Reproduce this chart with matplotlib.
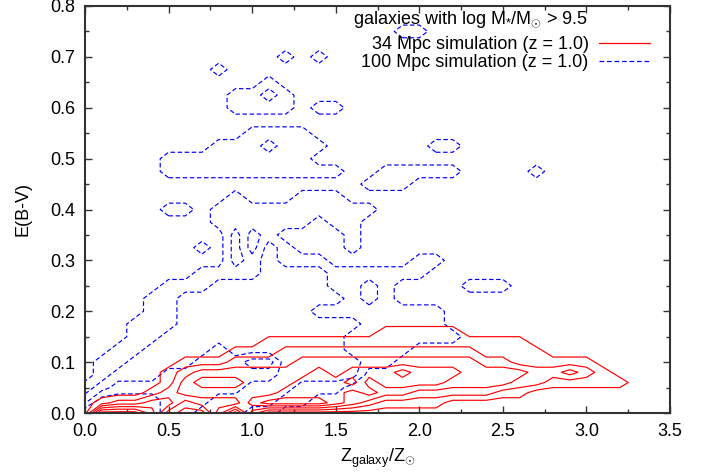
import numpy as np
import matplotlib
matplotlib.use('Agg')
import matplotlib.pyplot as plt
from matplotlib.lines import Line2D

plt.rcParams['font.family'] = ['Liberation Sans', 'DejaVu Sans']
plt.rcParams['mathtext.fontset'] = 'custom'
plt.rcParams['mathtext.rm'] = 'Liberation Sans'
plt.rcParams['mathtext.it'] = 'Liberation Sans:italic'

# ==========================================
# 1. DATA (2D histograms)
# ==========================================
# metallicity bins Z_galaxy/Z_sun (columns)
z_bins = np.arange(36) * 0.1

# 34 Mpc run: E(B-V) bins 0.00 .. 0.18 (rows, top row first)
ebv_bins_34 = np.arange(10) * 0.02
counts_34 = [
    "000000000000000000000000000000000000",  # 0.18
    "000000000000000000111110000000000000",  # 0.16
    "000000000001111111111111111000000000",  # 0.14
    "000000000111222222222222111100000000",  # 0.12
    "000000111222233333333333221111100000",  # 0.10
    "000001233333334344454443333223210000",  # 0.08
    "000001344433344453444433332211111000",  # 0.06
    "000012333333444434332222211000000000",  # 0.04
    "012233122245555432111100000000000000",  # 0.02
    "066641003620000000000000000000000000",  # 0.00
]
levels_34 = [0.5, 1.5, 2.5, 3.5, 4.5, 5.5]

# 100 Mpc run: E(B-V) bins 0.000 .. 0.800 (rows, top row first)
ebv_bins_100 = np.arange(33) * 0.025
counts_100 = [
    "000000000000000000000000000000000000",  # 0.800
    "000000000000000000000000000000000000",  # 0.775
    "000000000000000000022000000000000000",  # 0.750
    "000000000000000000000000000000000000",  # 0.725
    "000000000000202000000000000000000000",  # 0.700
    "000000002000000000000000000000000000",  # 0.675
    "000000000002000000000000000000000000",  # 0.650
    "000000000224200000000000000000000000",  # 0.625
    "000000000222202200000000000000000000",  # 0.600
    "000000000000000000000000000000000000",  # 0.575
    "000000000022220000000000000000000000",  # 0.550
    "000000002224222000000220000000000000",  # 0.525
    "000002222222220000000000000000000000",  # 0.500
    "000002222222222200222220000200000000",  # 0.475
    "000000000000000002220000000000000000",  # 0.450
    "000000000200022200000000000000000000",  # 0.425
    "000002202222222222000000000000000000",  # 0.400
    "000000002222220220000000000000000000",  # 0.375
    "000000000402000020000000000000000000",  # 0.350
    "000000020404200020000000000000000000",  # 0.325
    "000000000424222000002200000000000000",  # 0.300
    "000000022224444222222000000000000000",  # 0.275
    "000002224444444224200002220000000000",  # 0.250
    "000022444444444424200000000000000000",  # 0.225
    "000022444444442222222200000000000000",  # 0.200
    "000222444444444442222200000000000000",  # 0.175
    "000224444444444422222220000000000000",  # 0.150
    "002244446444444422220000000000000000",  # 0.125
    "022444466688444442200000000000000000",  # 0.100
    "024446666666444440000000000000000000",  # 0.075
    "246666666644422200000000000000000000",  # 0.050
    "488886664444220000000000000000000000",  # 0.025
    "999986644422000000000000000000000000",  # 0.000
]
levels_100 = [1, 3, 5, 7]

legend_title = 'galaxies with log M$_{*}$/M$_{\\odot}$ > 9.5'
labels = ['34 Mpc simulation (z = 1.0)', '100 Mpc simulation (z = 1.0)']


def to_grid(rows):
    rows = [r.ljust(36, '0')[:36] for r in rows][::-1]
    return np.array([[int(c) for c in r] for r in rows], dtype=float)


grid_34 = to_grid(counts_34)
grid_100 = to_grid(counts_100)

# ==========================================
# 2. FIGURE
# ==========================================
fig = plt.figure(figsize=(7.09, 4.76), dpi=100)
ax = fig.add_axes([85 / 709, 63 / 476, 585 / 709, 407 / 476])

dash = (0, (3.8, 2.2))
cs_b = ax.contour(z_bins, ebv_bins_100, grid_100, levels=levels_100,
                  colors='#0000ff', linewidths=0.85)
cs_b.set_linestyle(dash)
cs_r = ax.contour(z_bins, ebv_bins_34, grid_34, levels=levels_34,
                  colors='#ff0000', linewidths=0.85)
cs_r.set_linestyle('solid')

ax.set_xlim(0, 3.5)
ax.set_ylim(0, 0.8)
ax.set_xticks(np.arange(0, 3.51, 0.5))
ax.set_xticks(np.arange(0, 3.51, 0.25), minor=True)
ax.set_yticks(np.arange(0, 0.81, 0.1))
ax.set_yticks(np.arange(0, 0.81, 0.05), minor=True)
ax.xaxis.set_major_formatter(plt.FormatStrFormatter('%.1f'))
ax.yaxis.set_major_formatter(plt.FormatStrFormatter('%.1f'))
ax.tick_params(which='both', direction='in', top=True, right=True,
               color='#333333', width=1.0, labelsize=13, pad=7)
ax.tick_params(which='major', length=5)
ax.tick_params(which='minor', length=3)
for s in ax.spines.values():
    s.set_linewidth(1.5)
    s.set_color('#333333')

ax.set_xlabel('Z$_{\\mathrm{galaxy}}$/Z$_{\\odot}$', fontsize=13)
ax.set_ylabel('E(B-V)', fontsize=13)
ax.xaxis.set_label_coords(0.5, -0.083)
ax.yaxis.set_label_coords(-0.092, 0.5)

handles = [Line2D([], [], color='#ff0000', lw=0.9),
           Line2D([], [], color='#0000ff', lw=0.9, linestyle=dash)]
ax.legend(handles, labels, loc='upper right', markerfirst=False,
          frameon=False, fontsize=13, handlelength=2.8, handletextpad=0.6,
          labelspacing=0.05, borderpad=0, borderaxespad=0,
          bbox_to_anchor=(650 / 709, 1 - 36 / 476),
          bbox_transform=fig.transFigure)
fig.text(588 / 709, 1 - 20 / 476, legend_title, ha='right', va='center',
         fontsize=13)

fig.savefig('out.png', dpi=100)
